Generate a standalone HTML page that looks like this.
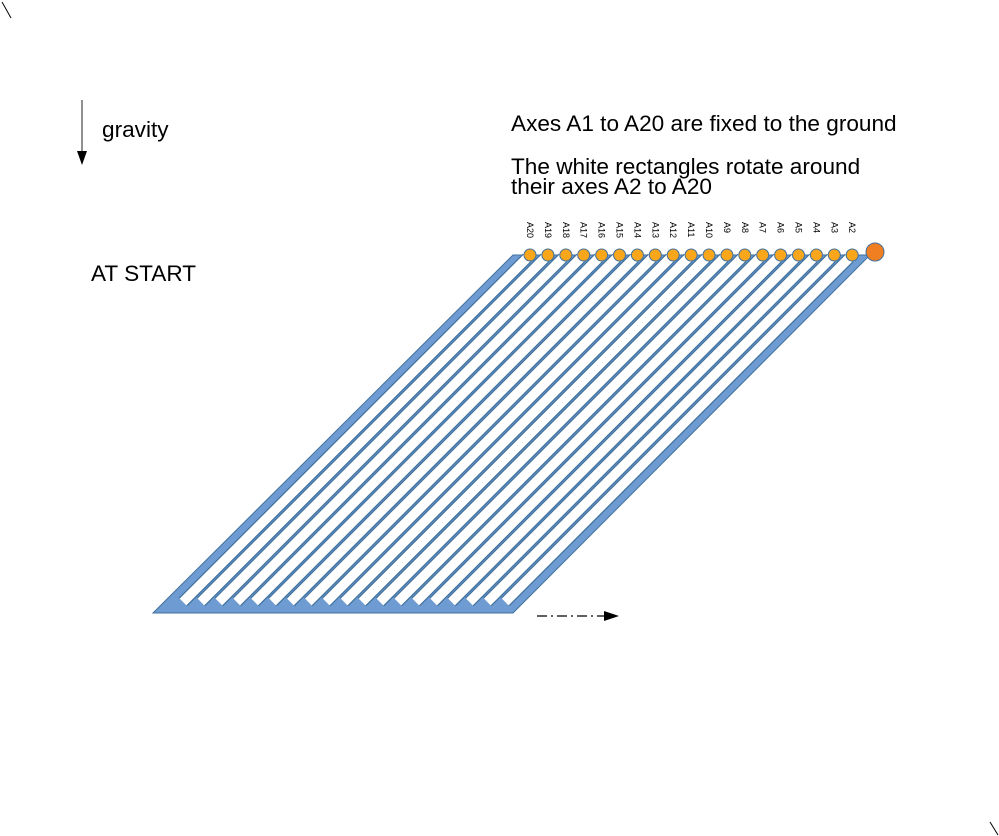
<!DOCTYPE html>
<html><head><meta charset="utf-8"><style>
html,body{margin:0;padding:0;background:#fff;}
svg{display:block;}
text{font-family:"Liberation Sans",sans-serif;}
</style></head><body>
<svg width="999" height="836" viewBox="0 0 999 836" xmlns="http://www.w3.org/2000/svg">
<defs>
<g id="st">
<line x1="527" y1="258" x2="183" y2="602" stroke="#41719c" stroke-width="12"/>
<line x1="527" y1="258" x2="183" y2="602" stroke="#fff" stroke-width="9.5"/>
</g>
<circle id="dt" cx="530" cy="255" r="6" fill="#f9a61a" stroke="#41719c" stroke-width="1"/>
</defs>
<line x1="2" y1="2" x2="11" y2="18" stroke="#000" stroke-width="1"/>
<line x1="990" y1="822" x2="998" y2="835" stroke="#000" stroke-width="1"/>
<line x1="82" y1="100" x2="82" y2="152" stroke="#555" stroke-width="1.3"/>
<polygon points="77,151 87,151 82,165" fill="#000"/>
<text x="102" y="137" font-size="22.6">gravity</text>
<text x="91" y="281" font-size="22.6">AT START</text>
<text x="511" y="131" font-size="22.6">Axes A1 to A20 are fixed to the ground</text>
<text x="511" y="174" font-size="22.6">The white rectangles rotate around</text>
<text x="511" y="194" font-size="22.6">their axes A2 to A20</text>
<polygon points="513,255 870,255 513,613 153,613" fill="#6d9bd2" stroke="#41719c" stroke-width="1"/>
<use href="#st" x="0"/><use href="#st" x="17.9"/><use href="#st" x="35.8"/><use href="#st" x="53.7"/>
<use href="#st" x="71.6"/><use href="#st" x="89.5"/><use href="#st" x="107.4"/><use href="#st" x="125.3"/>
<use href="#st" x="143.2"/><use href="#st" x="161.1"/><use href="#st" x="179"/><use href="#st" x="196.9"/>
<use href="#st" x="214.8"/><use href="#st" x="232.7"/><use href="#st" x="250.6"/><use href="#st" x="268.5"/>
<use href="#st" x="286.4"/><use href="#st" x="304.3"/><use href="#st" x="322.2"/>
<use href="#dt" x="0"/><use href="#dt" x="17.9"/><use href="#dt" x="35.8"/><use href="#dt" x="53.7"/>
<use href="#dt" x="71.6"/><use href="#dt" x="89.5"/><use href="#dt" x="107.4"/><use href="#dt" x="125.3"/>
<use href="#dt" x="143.2"/><use href="#dt" x="161.1"/><use href="#dt" x="179"/><use href="#dt" x="196.9"/>
<use href="#dt" x="214.8"/><use href="#dt" x="232.7"/><use href="#dt" x="250.6"/><use href="#dt" x="268.5"/>
<use href="#dt" x="286.4"/><use href="#dt" x="304.3"/><use href="#dt" x="322.2"/>
<g font-size="9">
<text transform="translate(527,222) rotate(90)">A20</text>
<text transform="translate(544.9,222) rotate(90)">A19</text>
<text transform="translate(562.8,222) rotate(90)">A18</text>
<text transform="translate(580.7,222) rotate(90)">A17</text>
<text transform="translate(598.6,222) rotate(90)">A16</text>
<text transform="translate(616.5,222) rotate(90)">A15</text>
<text transform="translate(634.4,222) rotate(90)">A14</text>
<text transform="translate(652.3,222) rotate(90)">A13</text>
<text transform="translate(670.2,222) rotate(90)">A12</text>
<text transform="translate(688.1,222) rotate(90)">A11</text>
<text transform="translate(706,222) rotate(90)">A10</text>
<text transform="translate(723.9,222) rotate(90)">A9</text>
<text transform="translate(741.8,222) rotate(90)">A8</text>
<text transform="translate(759.7,222) rotate(90)">A7</text>
<text transform="translate(777.6,222) rotate(90)">A6</text>
<text transform="translate(795.5,222) rotate(90)">A5</text>
<text transform="translate(813.4,222) rotate(90)">A4</text>
<text transform="translate(831.3,222) rotate(90)">A3</text>
<text transform="translate(849.2,222) rotate(90)">A2</text>
</g>
<line x1="537" y1="616" x2="605" y2="616" stroke="#000" stroke-width="1.3" stroke-dasharray="10,4,2,4"/>
<polygon points="604,611 619,616 604,621" fill="#000"/>
<circle cx="875" cy="252" r="9" fill="#f07f22" stroke="#41719c" stroke-width="1"/>
</svg>
</body></html>
